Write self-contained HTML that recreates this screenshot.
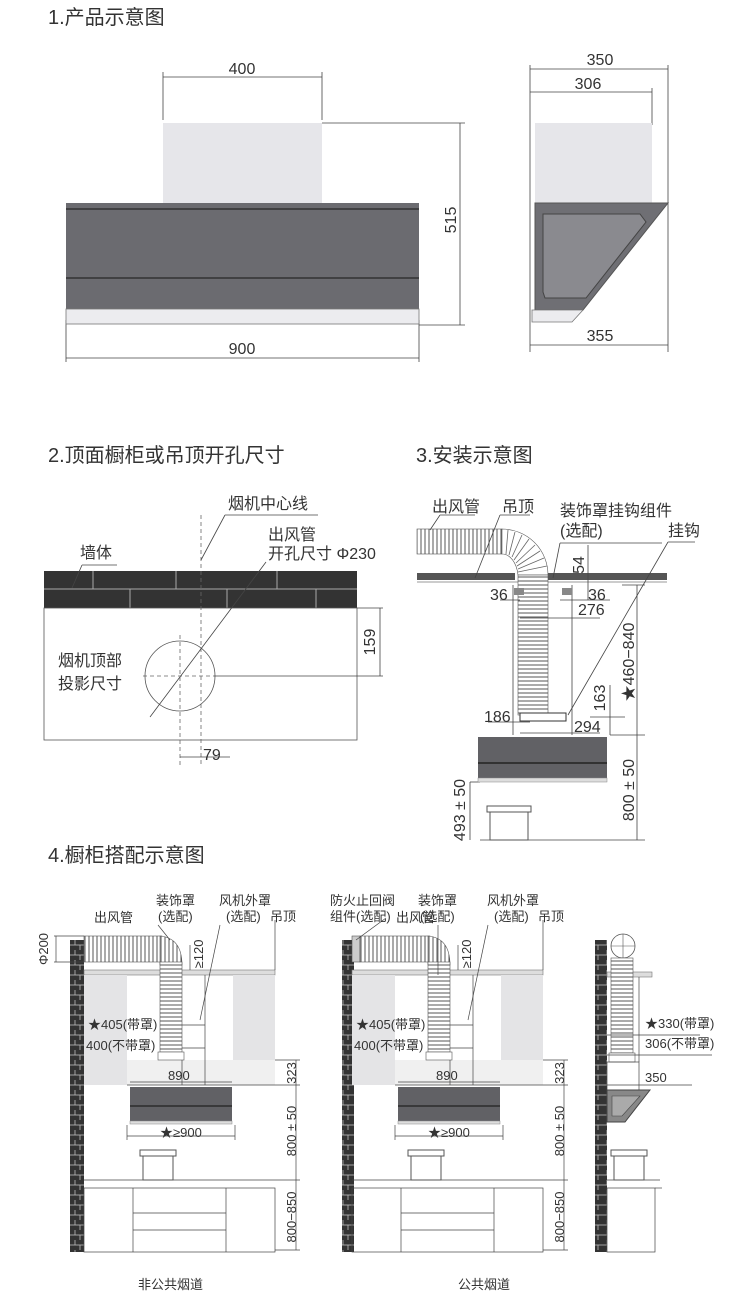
<!DOCTYPE html>
<html><head><meta charset="utf-8"><style>
body{margin:0;background:#fff}
svg{display:block}
text{font-family:"Liberation Sans","Noto Sans CJK SC",sans-serif;fill:#333}
.t{font-size:20px}
.l{font-size:16px}
.s{font-size:13px}
</style></head><body>
<svg width="750" height="1302" viewBox="0 0 750 1302" xmlns="http://www.w3.org/2000/svg">
<defs>
<pattern id="dh" width="4" height="10" patternUnits="userSpaceOnUse"><rect width="4" height="10" fill="#fff"/><line x1="1" y1="0" x2="1" y2="10" stroke="#555" stroke-width="1"/></pattern>
<pattern id="dv" width="10" height="4" patternUnits="userSpaceOnUse"><rect width="10" height="4" fill="#fff"/><line x1="0" y1="1" x2="10" y2="1" stroke="#555" stroke-width="1"/></pattern>
<pattern id="br" width="14" height="10" patternUnits="userSpaceOnUse"><rect width="14" height="10" fill="#333"/><line x1="0" y1="5" x2="14" y2="5" stroke="#bbb" stroke-width="0.8"/><line x1="5" y1="0" x2="5" y2="5" stroke="#bbb" stroke-width="0.8"/><line x1="10" y1="5" x2="10" y2="10" stroke="#bbb" stroke-width="0.8"/></pattern>
</defs>

<!-- Section 1 -->
<text x="48" y="24" class="t">1.产品示意图</text>
<g stroke="#444" stroke-width="0.8" fill="none">
<line x1="163" y1="72" x2="163" y2="120"/><line x1="322" y1="72" x2="322" y2="120"/>
<line x1="163" y1="77" x2="322" y2="77"/>
<line x1="322" y1="123" x2="465" y2="123"/><line x1="419" y1="325" x2="465" y2="325"/>
<line x1="460" y1="123" x2="460" y2="325"/>
<line x1="66" y1="320" x2="66" y2="362"/><line x1="419" y1="320" x2="419" y2="362"/>
<line x1="66" y1="358" x2="419" y2="358"/>
</g>
<text x="242" y="74" class="l" text-anchor="middle">400</text>
<text x="242" y="354" class="l" text-anchor="middle">900</text>
<text transform="translate(456,220) rotate(-90)" class="l" text-anchor="middle">515</text>
<rect x="163" y="123" width="159" height="80" fill="#e6e6ea"/>
<rect x="66" y="203" width="353" height="106" fill="#6b6b70"/>
<line x1="66" y1="209" x2="419" y2="209" stroke="#333" stroke-width="1.5"/>
<line x1="66" y1="278" x2="419" y2="278" stroke="#333" stroke-width="1.5"/>
<rect x="66" y="309" width="353" height="15" fill="#ececef" stroke="#777" stroke-width="0.8"/>

<g stroke="#444" stroke-width="0.8" fill="none">
<line x1="530" y1="65" x2="530" y2="352"/><line x1="668" y1="65" x2="668" y2="352"/>
<line x1="530" y1="69" x2="668" y2="69"/>
<line x1="652" y1="88" x2="652" y2="125"/>
<line x1="530" y1="92" x2="652" y2="92"/>
<line x1="530" y1="345" x2="668" y2="345"/>
</g>
<text x="600" y="65" class="l" text-anchor="middle">350</text>
<text x="588" y="89" class="l" text-anchor="middle">306</text>
<text x="600" y="341" class="l" text-anchor="middle">355</text>
<rect x="535" y="123" width="117" height="80" fill="#e6e6ea"/>
<polygon points="535,203 668,203 583,310 535,310" fill="#6f6f74" stroke="#555"/>
<polygon points="543,214 640,214 646,222 586,298 545,298 543,292" fill="#8a8a8f" stroke="#444"/>
<polygon points="532,310 583,310 572,322 532,322" fill="#ececef" stroke="#777" stroke-width="0.8"/>

<!-- Section 2 -->
<text x="48" y="462" class="t">2.顶面橱柜或吊顶开孔尺寸</text>
<rect x="44" y="571" width="313" height="37" fill="#333"/>
<g stroke="#aaa" stroke-width="1">
<line x1="44" y1="589" x2="357" y2="589"/>
<line x1="93" y1="571" x2="93" y2="589"/><line x1="176" y1="571" x2="176" y2="589"/><line x1="277" y1="571" x2="277" y2="589"/>
<line x1="130" y1="589" x2="130" y2="608"/><line x1="227" y1="589" x2="227" y2="608"/><line x1="316" y1="589" x2="316" y2="608"/>
</g>
<rect x="44" y="608" width="313" height="132" fill="none" stroke="#555" stroke-width="0.8"/>
<g stroke="#666" stroke-width="0.8" fill="none" stroke-dasharray="4,3">
<line x1="201" y1="515" x2="201" y2="765"/>
<line x1="180" y1="635" x2="180" y2="765"/>
<line x1="143" y1="676" x2="214" y2="676"/>
</g>
<circle cx="180" cy="676" r="35" fill="none" stroke="#555" stroke-width="0.8"/>
<g stroke="#444" stroke-width="0.8" fill="none">
<line x1="214" y1="676" x2="383" y2="676"/><line x1="357" y1="608" x2="383" y2="608"/>
<line x1="380" y1="608" x2="380" y2="676"/>
<line x1="180" y1="757" x2="201" y2="757"/><line x1="201" y1="757" x2="230" y2="757"/>
<line x1="266" y1="562" x2="150" y2="717"/>
<line x1="201" y1="560" x2="225" y2="515"/><line x1="225" y1="515" x2="318" y2="515"/>
<line x1="72" y1="588" x2="82" y2="565"/><line x1="82" y1="565" x2="117" y2="565"/>
</g>
<text x="228" y="509" class="l">烟机中心线</text>
<text x="268" y="540" class="l">出风管</text>
<text x="268" y="559" class="l">开孔尺寸 Φ230</text>
<text x="80" y="558" class="l">墙体</text>
<text x="58" y="666" class="l">烟机顶部</text>
<text x="58" y="689" class="l">投影尺寸</text>
<text transform="translate(375,642) rotate(-90)" class="l" text-anchor="middle">159</text>
<text x="203" y="760" class="l">79</text>

<!-- Section 3 -->
<text x="416" y="462" class="t">3.安装示意图</text>
<rect x="417" y="573" width="98" height="7" fill="#555"/>
<rect x="547" y="573" width="120" height="7" fill="#555"/>
<line x1="417" y1="582" x2="667" y2="582" stroke="#999"/>
<rect x="417" y="529" width="85" height="25" fill="url(#dh)" stroke="#555" stroke-width="0.6"/>
<path d="M502,529 A46,46 0 0 1 548,575 L518,575 A16,25 0 0 0 502,554 Z" fill="#fff" stroke="#555" stroke-width="0.6"/>
<g stroke="#666" stroke-width="0.8">
<line x1="508" y1="530" x2="506" y2="554"/><line x1="515" y1="532" x2="509" y2="555"/><line x1="522" y1="535" x2="512" y2="557"/>
<line x1="529" y1="539" x2="514" y2="560"/><line x1="535" y1="545" x2="516" y2="563"/><line x1="540" y1="551" x2="517" y2="566"/>
<line x1="544" y1="558" x2="518" y2="569"/><line x1="547" y1="566" x2="518" y2="572"/>
</g>
<rect x="518" y="575" width="30" height="140" fill="url(#dv)" stroke="#555" stroke-width="0.6"/>
<g stroke="#444" stroke-width="0.8" fill="none">
<line x1="513" y1="585" x2="513" y2="735"/><line x1="572" y1="585" x2="572" y2="735"/>
<line x1="520" y1="618" x2="563" y2="618"/><line x1="563" y1="618" x2="600" y2="618"/>
<line x1="500" y1="600" x2="520" y2="600"/><line x1="560" y1="600" x2="610" y2="600"/>
<line x1="588" y1="545" x2="588" y2="600"/>
<line x1="622" y1="585" x2="645" y2="585"/><line x1="637" y1="585" x2="637" y2="840"/>
<line x1="610" y1="735" x2="645" y2="735"/>
<line x1="610" y1="685" x2="610" y2="735"/><line x1="590" y1="717" x2="625" y2="717"/>
<line x1="488" y1="722" x2="530" y2="722"/><line x1="520" y1="733" x2="600" y2="733"/>
<line x1="470" y1="782" x2="470" y2="840"/><line x1="470" y1="782" x2="480" y2="782"/>
<line x1="480" y1="840" x2="645" y2="840"/>
<line x1="430" y1="530" x2="440" y2="515"/><line x1="440" y1="515" x2="475" y2="515"/>
<line x1="475" y1="578" x2="500" y2="515"/><line x1="500" y1="515" x2="530" y2="515"/>
<line x1="553" y1="578" x2="560" y2="543"/><line x1="560" y1="543" x2="662" y2="543"/>
<line x1="568" y1="715" x2="668" y2="542"/><line x1="668" y1="542" x2="695" y2="542"/>
</g>
<rect x="514" y="588" width="10" height="7" fill="#888"/>
<rect x="562" y="588" width="10" height="7" fill="#888"/>
<rect x="520" y="713" width="46" height="8" fill="#fff" stroke="#333"/>
<rect x="478" y="737" width="129" height="41" fill="#616165"/>
<line x1="478" y1="763" x2="607" y2="763" stroke="#222" stroke-width="1.5"/>
<rect x="478" y="778" width="129" height="4" fill="#ddd" stroke="#888" stroke-width="0.5"/>
<rect x="490" y="810" width="38" height="30" fill="#fff" stroke="#555"/>
<rect x="487" y="806" width="44" height="6" fill="#fff" stroke="#555"/>
<text x="432" y="512" class="l">出风管</text>
<text x="502" y="512" class="l">吊顶</text>
<text x="560" y="516" class="l">装饰罩挂钩组件</text>
<text x="560" y="536" class="l">(选配)</text>
<text x="668" y="536" class="l">挂钩</text>
<text transform="translate(584,565) rotate(-90)" class="l" text-anchor="middle">54</text>
<text x="490" y="600" class="l">36</text>
<text x="588" y="600" class="l">36</text>
<text x="578" y="615" class="l">276</text>
<text transform="translate(634,662) rotate(-90)" class="l" text-anchor="middle">★460−840</text>
<text transform="translate(605,698) rotate(-90)" class="l" text-anchor="middle">163</text>
<text x="484" y="722" class="l">186</text>
<text x="574" y="732" class="l">294</text>
<text transform="translate(634,790) rotate(-90)" class="l" text-anchor="middle">800 ± 50</text>
<text transform="translate(465,810) rotate(-90)" class="l" text-anchor="middle">493 ± 50</text>

<!-- Section 4 -->
<text x="48" y="862" class="t">4.橱柜搭配示意图</text>

<!-- panel A -->
<g>
<rect x="70" y="940" width="14" height="312" fill="url(#br)"/>
<rect x="84" y="970" width="191" height="5" fill="#ddd" stroke="#777" stroke-width="0.6"/>
<rect x="84" y="975" width="43" height="110" fill="#e4e4e6"/>
<rect x="233" y="975" width="42" height="85" fill="#e4e4e6"/>
<rect x="127" y="1060" width="148" height="25" fill="#f0f0f0"/>
<rect x="84" y="936" width="78" height="26" fill="url(#dh)" stroke="#555" stroke-width="0.6"/>
<path d="M160,936 Q182,938 182,965 L160,965 Q160,962 160,962 Z" fill="url(#dh)" stroke="#555" stroke-width="0.6"/>
<rect x="160" y="962" width="22" height="90" fill="url(#dv)" stroke="#555" stroke-width="0.6"/>
<rect x="158" y="1052" width="26" height="8" fill="#fff" stroke="#555" stroke-width="0.6"/>
<g stroke="#444" stroke-width="0.7" fill="none">
<line x1="205" y1="975" x2="205" y2="1085"/><line x1="182" y1="1060" x2="182" y2="1085"/>
<line x1="182" y1="1025" x2="205" y2="1025"/><line x1="182" y1="1048" x2="205" y2="1048"/>
<line x1="127" y1="1085" x2="300" y2="1085"/>
<line x1="130" y1="1082" x2="232" y2="1082"/>
<line x1="127" y1="1125" x2="127" y2="1140"/><line x1="235" y1="1125" x2="235" y2="1140"/>
<line x1="127" y1="1136" x2="235" y2="1136"/>
<line x1="54" y1="936" x2="84" y2="936"/><line x1="54" y1="962" x2="84" y2="962"/><line x1="56" y1="936" x2="56" y2="962"/>
<line x1="190" y1="945" x2="190" y2="970"/>
<line x1="275" y1="920" x2="275" y2="970"/>
<line x1="275" y1="1060" x2="300" y2="1060"/><line x1="296" y1="1060" x2="296" y2="1250"/>
<line x1="275" y1="1180" x2="300" y2="1180"/><line x1="275" y1="1250" x2="300" y2="1250"/>
<line x1="84" y1="1180" x2="275" y2="1180"/>
<rect x="84" y="1188" width="191" height="64"/>
<line x1="133" y1="1188" x2="133" y2="1252"/><line x1="226" y1="1188" x2="226" y2="1252"/>
<line x1="133" y1="1213" x2="226" y2="1213"/><line x1="133" y1="1230" x2="226" y2="1230"/>
<line x1="200" y1="1020" x2="220" y2="925"/>
<line x1="170" y1="940" x2="158" y2="925"/>
</g>
<rect x="130" y="1087" width="102" height="34" fill="#616165"/>
<line x1="130" y1="1106" x2="232" y2="1106" stroke="#222" stroke-width="1.2"/>
<rect x="130" y="1121" width="102" height="3" fill="#ddd" stroke="#888" stroke-width="0.5"/>
<rect x="143" y="1154" width="30" height="26" fill="#fff" stroke="#555"/>
<rect x="140" y="1150" width="36" height="6" fill="#fff" stroke="#555"/>
<text x="94" y="922" class="s">出风管</text>
<text x="156" y="905" class="s">装饰罩</text>
<text x="158" y="921" class="s">(选配)</text>
<text x="219" y="905" class="s">风机外罩</text>
<text x="226" y="921" class="s">(选配)</text>
<text x="270" y="921" class="s">吊顶</text>
<text transform="translate(48,949) rotate(-90)" class="s" text-anchor="middle">Φ200</text>
<text transform="translate(203,954) rotate(-90)" class="s" text-anchor="middle">≥120</text>
<text x="88" y="1029" class="s">★405(带罩)</text>
<text x="86" y="1050" class="s">400(不带罩)</text>
<text x="168" y="1080" class="s">890</text>
<text transform="translate(296,1073) rotate(-90)" class="s" text-anchor="middle">323</text>
<text x="160" y="1137" class="s">★≥900</text>
<text transform="translate(296,1131) rotate(-90)" class="s" text-anchor="middle">800 ± 50</text>
<text transform="translate(296,1217) rotate(-90)" class="s" text-anchor="middle">800−850</text>
<text x="138" y="1289" class="s">非公共烟道</text>
</g>

<!-- panel B -->
<g transform="translate(268,0)">
<rect x="74" y="940" width="12" height="312" fill="url(#br)"/>
<rect x="84" y="970" width="191" height="5" fill="#ddd" stroke="#777" stroke-width="0.6"/>
<rect x="84" y="975" width="43" height="110" fill="#e4e4e6"/>
<rect x="233" y="975" width="42" height="85" fill="#e4e4e6"/>
<rect x="127" y="1060" width="148" height="25" fill="#f0f0f0"/>
<rect x="84" y="936" width="8" height="26" fill="#ccc" stroke="#555" stroke-width="0.6"/>
<rect x="92" y="936" width="70" height="26" fill="url(#dh)" stroke="#555" stroke-width="0.6"/>
<path d="M160,936 Q182,938 182,965 L160,965 Z" fill="url(#dh)" stroke="#555" stroke-width="0.6"/>
<rect x="160" y="962" width="22" height="90" fill="url(#dv)" stroke="#555" stroke-width="0.6"/>
<rect x="158" y="1052" width="26" height="8" fill="#fff" stroke="#555" stroke-width="0.6"/>
<g stroke="#444" stroke-width="0.7" fill="none">
<line x1="205" y1="975" x2="205" y2="1085"/><line x1="182" y1="1060" x2="182" y2="1085"/>
<line x1="182" y1="1025" x2="205" y2="1025"/><line x1="182" y1="1048" x2="205" y2="1048"/>
<line x1="127" y1="1085" x2="300" y2="1085"/>
<line x1="130" y1="1082" x2="232" y2="1082"/>
<line x1="127" y1="1125" x2="127" y2="1140"/><line x1="235" y1="1125" x2="235" y2="1140"/>
<line x1="127" y1="1136" x2="235" y2="1136"/>
<line x1="190" y1="945" x2="190" y2="970"/>
<line x1="275" y1="920" x2="275" y2="970"/>
<line x1="275" y1="1060" x2="300" y2="1060"/><line x1="296" y1="1060" x2="296" y2="1250"/>
<line x1="275" y1="1180" x2="300" y2="1180"/><line x1="275" y1="1250" x2="300" y2="1250"/>
<line x1="84" y1="1180" x2="275" y2="1180"/>
<rect x="84" y="1188" width="191" height="64"/>
<line x1="133" y1="1188" x2="133" y2="1252"/><line x1="226" y1="1188" x2="226" y2="1252"/>
<line x1="133" y1="1213" x2="226" y2="1213"/><line x1="133" y1="1230" x2="226" y2="1230"/>
<line x1="200" y1="1020" x2="220" y2="925"/>
<line x1="88" y1="940" x2="118" y2="918"/>
<line x1="170" y1="975" x2="170" y2="925"/>
</g>
<rect x="130" y="1087" width="102" height="34" fill="#616165"/>
<line x1="130" y1="1106" x2="232" y2="1106" stroke="#222" stroke-width="1.2"/>
<rect x="130" y="1121" width="102" height="3" fill="#ddd" stroke="#888" stroke-width="0.5"/>
<rect x="143" y="1154" width="30" height="26" fill="#fff" stroke="#555"/>
<rect x="140" y="1150" width="36" height="6" fill="#fff" stroke="#555"/>
<text x="128" y="922" class="s">出风管</text>
<text x="62" y="905" class="s">防火止回阀</text>
<text x="62" y="921" class="s">组件(选配)</text>
<text x="150" y="905" class="s">装饰罩</text>
<text x="152" y="921" class="s">(选配)</text>
<text x="219" y="905" class="s">风机外罩</text>
<text x="226" y="921" class="s">(选配)</text>
<text x="270" y="921" class="s">吊顶</text>
<text transform="translate(203,954) rotate(-90)" class="s" text-anchor="middle">≥120</text>
<text x="88" y="1029" class="s">★405(带罩)</text>
<text x="86" y="1050" class="s">400(不带罩)</text>
<text x="168" y="1080" class="s">890</text>
<text transform="translate(296,1073) rotate(-90)" class="s" text-anchor="middle">323</text>
<text x="160" y="1137" class="s">★≥900</text>
<text transform="translate(296,1131) rotate(-90)" class="s" text-anchor="middle">800 ± 50</text>
<text transform="translate(296,1217) rotate(-90)" class="s" text-anchor="middle">800−850</text>
<text x="190" y="1289" class="s">公共烟道</text>
</g>

<!-- panel C -->
<rect x="595" y="940" width="12" height="312" fill="url(#br)"/>
<circle cx="623" cy="946" r="12" fill="#fff" stroke="#555" stroke-width="0.8"/>
<line x1="611" y1="946" x2="635" y2="946" stroke="#555" stroke-width="0.6"/>
<line x1="623" y1="934" x2="623" y2="958" stroke="#555" stroke-width="0.6"/>
<rect x="607" y="972" width="45" height="5" fill="#ddd" stroke="#777" stroke-width="0.6"/>
<rect x="611" y="958" width="22" height="95" fill="url(#dv)" stroke="#555" stroke-width="0.6"/>
<rect x="609" y="1053" width="26" height="9" fill="#fff" stroke="#555" stroke-width="0.6"/>
<g stroke="#444" stroke-width="0.7" fill="none">
<rect x="607" y="1062" width="32" height="28"/>
<line x1="607" y1="1035" x2="700" y2="1035"/><line x1="607" y1="1055" x2="712" y2="1055"/>
<line x1="607" y1="1085" x2="692" y2="1085"/>
<line x1="639" y1="977" x2="639" y2="1062"/>
<line x1="607" y1="1180" x2="660" y2="1180"/>
<rect x="607" y="1188" width="48" height="64"/>
<line x1="655" y1="1188" x2="662" y2="1188"/>
</g>
<polygon points="607,1090 650,1090 625,1122 607,1122" fill="#888" stroke="#444"/>
<polygon points="612,1096 640,1096 622,1116 612,1116" fill="#aaa" stroke="#444" stroke-width="0.6"/>
<rect x="614" y="1154" width="30" height="26" fill="#fff" stroke="#555"/>
<rect x="611" y="1150" width="36" height="6" fill="#fff" stroke="#555"/>
<text x="645" y="1028" class="s">★330(带罩)</text>
<text x="645" y="1048" class="s">306(不带罩)</text>
<text x="645" y="1082" class="s">350</text>
</svg>
</body></html>
